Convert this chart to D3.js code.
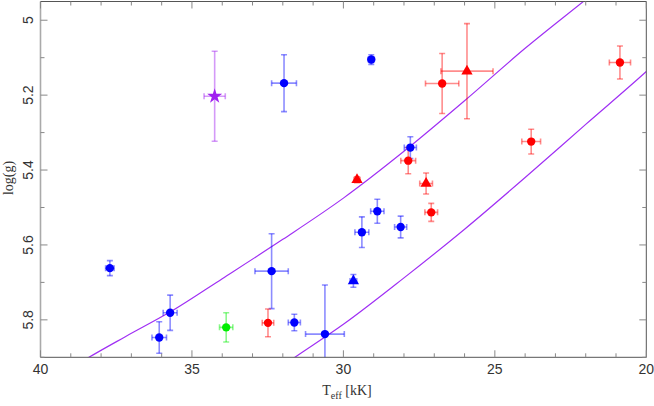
<!DOCTYPE html>
<html>
<head>
<meta charset="utf-8">
<script src="https://cdn.jsdelivr.net/npm/d3@7"></script>
<style>
html,body{margin:0;padding:0;background:#fff;}
svg{display:block;}
</style>
</head>
<body>
<svg id="chart" width="654" height="406"></svg>
<script>
// ---- data ----
const teff    = [34.25,31.96,29.08,26.74,25.92,20.87,23.80,27.79,27.86,29.55,27.27,27.10,28.88,29.39,28.11,37.71,32.37,29.67,35.72,36.08,33.87,32.49,31.62,30.61];
const logg    = [5.203,5.168,5.105,5.169,5.136,5.113,5.324,5.340,5.375,5.426,5.436,5.513,5.510,5.566,5.552,5.662,5.670,5.696,5.781,5.847,5.820,5.808,5.807,5.838];
const teffErr = [0.35,0.41,0.10,0.55,0.86,0.35,0.31,0.20,0.245,0.10,0.21,0.21,0.22,0.23,0.20,0.14,0.55,0.11,0.23,0.24,0.22,0.19,0.20,0.64];
const loggErr = [0.12,0.076,0.013,0.08,0.127,0.044,0.033,0.029,0.035,0.008,0.028,0.024,0.032,0.041,0.029,0.02,0.10,0.017,0.047,0.042,0.039,0.037,0.022,0.131];
const group   = ["purple","blue","blue","red","red","red","red","blue","red","red","red","red","blue","blue","blue","blue","blue","blue","blue","blue","green","red","blue","blue"];
const marker  = ["star","circle","circle","circle","triangle","circle","circle","circle","circle","triangle","triangle","circle","circle","circle","circle","circle","circle","triangle","circle","circle","circle","circle","circle","circle"];

const upperTeff = [39.5,38.4,37.2,35.7,34,32,30,28,26,24,22,21];
const upperLogg = [5.955,5.90,5.845,5.778,5.69,5.585,5.475,5.350,5.215,5.075,4.945,4.88];
const lowerTeff = [32.5,31.6,30,28,26,24,22,20,19.5];
const lowerLogg = [5.95,5.90,5.812,5.688,5.558,5.420,5.278,5.137,5.10];

const xTicks = [40,35,30,25,20];
const yTicks = [5,5.2,5.4,5.6,5.8];

// ---- layout ----
const svg = d3.select("#chart");
const L = 40.5, R = 646.3, T = 1.5, B = 357.3;
const x = d3.scaleLinear().domain([40,20]).range([L,R]);
const y = d3.scaleLinear().domain([4.95,5.9]).range([T,B]);
const colors = d3.scaleOrdinal().domain(["blue","red","green","purple"]).range(["#0000ff","#ff0000","#00ee00","#a020f0"]);

svg.append("defs").append("clipPath").attr("id","clip")
  .append("rect").attr("x",L).attr("y",T).attr("width",R-L).attr("height",B-T);

const plot = svg.append("g").attr("clip-path","url(#clip)");

// curves
const line = d3.line().x(d=>x(d[0])).y(d=>y(d[1])).curve(d3.curveMonotoneX);
[[upperTeff,upperLogg],[lowerTeff,lowerLogg]].forEach(([tt,gg])=>{
  plot.append("path").datum(tt.map((t,i)=>[t,gg[i]]))
    .attr("d",line).attr("fill","none").attr("stroke","#a030f4").attr("stroke-width",1.2);
});

// error bars
const idx = d3.range(teff.length);
const cap = 3;
const eb = plot.append("g");
idx.forEach(i=>{
  const c = colors(group[i]);
  const g = eb.append("g").attr("stroke",c).attr("stroke-opacity",0.45).attr("stroke-width",1.6).attr("fill","none");
  const cx = x(teff[i]), cy = y(logg[i]);
  const x0 = x(teff[i]+teffErr[i]), x1 = x(teff[i]-teffErr[i]);
  const y0 = y(logg[i]-loggErr[i]), y1 = y(logg[i]+loggErr[i]);
  g.append("line").attr("x1",x0).attr("x2",x1).attr("y1",cy).attr("y2",cy);
  g.append("line").attr("x1",x0).attr("x2",x0).attr("y1",cy-cap).attr("y2",cy+cap);
  g.append("line").attr("x1",x1).attr("x2",x1).attr("y1",cy-cap).attr("y2",cy+cap);
  g.append("line").attr("x1",cx).attr("x2",cx).attr("y1",y0).attr("y2",y1);
  g.append("line").attr("x1",cx-cap).attr("x2",cx+cap).attr("y1",y0).attr("y2",y0);
  g.append("line").attr("x1",cx-cap).attr("x2",cx+cap).attr("y1",y1).attr("y2",y1);
});

// markers
const sym = {circle:d3.symbolCircle, triangle:d3.symbolTriangle, star:d3.symbolStar};
const size = {circle:55, triangle:55, star:70};
plot.append("g").selectAll("path").data(idx).join("path")
  .attr("transform",i=>`translate(${x(teff[i])},${y(logg[i])})`)
  .attr("d",i=>d3.symbol(sym[marker[i]], size[marker[i]])())
  .attr("fill",i=>colors(group[i]));

// frame
svg.append("line").attr("x1",L).attr("x2",L).attr("y1",T).attr("y2",B).attr("stroke","#aaa").attr("stroke-width",1.6);
svg.append("line").attr("x1",R).attr("x2",R).attr("y1",T).attr("y2",B).attr("stroke","#555").attr("stroke-width",1);
svg.append("line").attr("x1",L).attr("x2",R).attr("y1",T).attr("y2",T).attr("stroke","#555").attr("stroke-width",1);
svg.append("line").attr("x1",L).attr("x2",R).attr("y1",B).attr("y2",B).attr("stroke","#555").attr("stroke-width",1);

// ticks
const tickCol = "#888";
const xMinor = d3.range(20,41,1);
const yMinor = d3.range(0,10).map(k=>+(5+k*0.1).toFixed(1));
const tk = svg.append("g").attr("stroke",tickCol).attr("stroke-width",1);
xMinor.forEach(v=>{
  const len = (v%5===0)?7:4;
  tk.append("line").attr("x1",x(v)).attr("x2",x(v)).attr("y1",B).attr("y2",B-len);
  tk.append("line").attr("x1",x(v)).attr("x2",x(v)).attr("y1",T).attr("y2",T+len);
});
yMinor.forEach(v=>{
  const major = yTicks.some(t=>Math.abs(t-v)<1e-6);
  const len = major?7:4;
  tk.append("line").attr("x1",L).attr("x2",L+len).attr("y1",y(v)).attr("y2",y(v));
  tk.append("line").attr("x1",R).attr("x2",R-len).attr("y1",y(v)).attr("y2",y(v));
});

// tick labels
const sans = "'Liberation Sans', Arial, sans-serif";
const serif = "'Liberation Serif', 'Times New Roman', serif";
svg.append("g").selectAll("text").data(xTicks).join("text")
  .attr("x",d=>x(d)).attr("y",374).attr("text-anchor","middle")
  .attr("font-family",sans).attr("font-size",14).attr("fill","#333")
  .text(d=>d3.format("d")(d));
svg.append("g").selectAll("text").data(yTicks).join("text")
  .attr("transform",d=>`translate(33,${y(d)}) rotate(-90)`).attr("text-anchor","middle")
  .attr("font-family",sans).attr("font-size",14).attr("fill","#333")
  .text(d=>d===5?"5":d3.format(".1f")(d));

// axis titles
const xt = svg.append("text").attr("x",347).attr("y",395).attr("text-anchor","middle")
  .attr("font-family",serif).attr("font-size",14).attr("fill","#333");
xt.append("tspan").text("T");
xt.append("tspan").attr("font-size",10).attr("dy",4).text("eff");
xt.append("tspan").attr("dy",-4).text(" [kK]");
svg.append("text").attr("transform",`translate(13,178) rotate(-90)`).attr("text-anchor","middle")
  .attr("font-family",serif).attr("font-size",14).attr("fill","#333").text("log(g)");
</script>
</body>
</html>
